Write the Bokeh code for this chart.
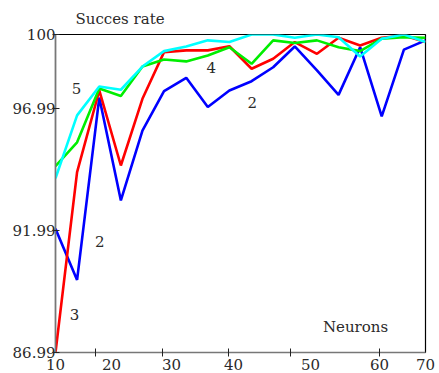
from bokeh.plotting import figure
from bokeh.models import FixedTicker, Label, Range1d
from bokeh.embed import file_html
from bokeh.resources import INLINE

# --- data -------------------------------------------------------------
neurons = [10, 13.5, 17.1, 20.6, 24.1, 27.6, 31.2, 34.7, 38.2,
           41.8, 45.3, 48.8, 52.4, 55.9, 59.4, 62.9, 66.5, 70]
blue = [92.05, 89.96, 97.42, 93.21, 96.07, 97.68, 98.23, 97.03, 97.71,
        98.09, 98.66, 99.51, 98.53, 97.53, 99.48, 96.65, 99.38, 99.76]
red = [86.99, 94.37, 97.71, 94.64, 97.37, 99.28, 99.35, 99.35, 99.52,
       98.60, 99.01, 99.69, 99.21, 99.87, 99.55, 99.87, 99.96, 99.69]
green = [94.61, 95.59, 97.79, 97.48, 98.69, 98.98, 98.90, 99.14, 99.48,
         98.80, 99.76, 99.65, 99.76, 99.48, 99.32, 99.83, 99.89, 99.87]
cyan = [94.12, 96.69, 97.87, 97.74, 98.69, 99.32, 99.51, 99.76, 99.69,
        100.0, 100.0, 99.87, 100.0, 99.89, 99.10, 99.83, 100.0, 99.69]

y_ticks = [86.99, 91.99, 96.99, 100]
y_tick_labels = ["86.99", "91.99", "96.99", "100"]
x_label_pos = [10, 19.08, 28.81, 38.86, 51.35, 62.54, 70]
x_tick_labels = ["10", "20", "30", "40", "50", "60", "70"]
x_tick_marks = [16.49, 27.35, 38.05, 48.11, 62.54]

series = [(blue, "#0000ff"), (red, "#ff0000"), (green, "#00ee00"), (cyan, "#00ffff")]

FONT = "DejaVu Serif"
FS = "15px"
TXT = "#2a2a2a"

p = figure(width=439, height=373, output_backend="svg", toolbar_location=None,
           x_range=Range1d(10, 70), y_range=Range1d(86.99, 100),
           min_border_left=55, min_border_right=14, min_border_top=34,
           min_border_bottom=21)
p.grid.visible = False
p.outline_line_color = "black"
p.outline_line_width = 1.2

p.title.text = "Succes rate"
p.title.text_font = FONT
p.title.text_font_size = FS
p.title.text_font_style = "normal"
p.title.text_color = TXT
p.title.align = "left"
p.title.offset = 20
p.title.standoff = 14

for ys, col in series:
    p.line(neurons, ys, line_color=col, line_width=2.6)

# x axis
xa = p.xaxis[0]
xa.ticker = FixedTicker(ticks=x_label_pos, minor_ticks=x_tick_marks)
xa.major_label_overrides = {v: t for v, t in zip(x_label_pos, x_tick_labels)}
xa.major_tick_in = 0
xa.major_tick_out = 0
xa.minor_tick_in = 4
xa.minor_tick_out = 4
xa.minor_tick_line_color = "#222222"
xa.axis_line_color = "#777777"
xa.axis_line_width = 1.5
xa.major_label_standoff = 2
xa.major_label_text_font = FONT
xa.major_label_text_font_size = FS
xa.major_label_text_color = TXT

# y axis
ya = p.yaxis[0]
ya.ticker = FixedTicker(ticks=y_ticks, minor_ticks=[])
ya.major_label_overrides = {v: t for v, t in zip(y_ticks, y_tick_labels)}
ya.major_tick_in = 4
ya.major_tick_out = 3
ya.major_tick_line_color = "#222222"
ya.axis_line_color = "#777777"
ya.axis_line_width = 1.5
ya.major_label_standoff = -3
ya.major_label_text_font = FONT
ya.major_label_text_font_size = FS
ya.major_label_text_color = TXT

def lab(x, y, t):
    p.add_layout(Label(x=x, y=y, text=t, text_font=FONT, text_font_size=FS,
                       text_color=TXT, text_align="center", text_baseline="middle"))

lab(13.41, 97.79, "5")
lab(35.25, 98.66, "4")
lab(41.89, 97.23, "2")
lab(17.19, 91.53, "2")
lab(13.08, 88.54, "3")
lab(58.65, 88.03, "Neurons")

open("out.html", "w").write(file_html(p, INLINE))
